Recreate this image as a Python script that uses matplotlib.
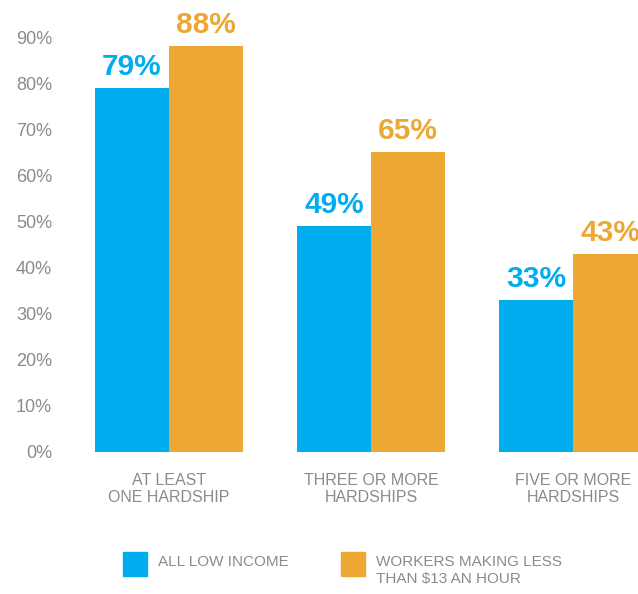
import matplotlib.pyplot as plt
from matplotlib.patches import Rectangle
import numpy as np

categories = ["AT LEAST\nONE HARDSHIP", "THREE OR MORE\nHARDSHIPS", "FIVE OR MORE\nHARDSHIPS"]
all_low_income = [79, 49, 33]
workers_under_13 = [88, 65, 43]
series_names = ["ALL LOW INCOME", "WORKERS MAKING LESS\nTHAN $13 AN HOUR"]
yticks = [0, 10, 20, 30, 40, 50, 60, 70, 80, 90]

blue = "#00AEEF"
orange = "#EDA733"
gray = "#8A8B8D"
font = ["Liberation Sans", "DejaVu Sans"]

W, H = 638, 594
fig = plt.figure(figsize=(W / 100, H / 100), dpi=100)
ax = fig.add_axes([80 / W, (H - 452) / H, 1 - 80 / W, 452 / H])

x = np.arange(len(categories))
w = 0.367
bars1 = ax.bar(x - w / 2, all_low_income, w, color=blue)
bars2 = ax.bar(x + w / 2, workers_under_13, w, color=orange)

# value labels above each bar
for bars, vals, c in [(bars1, all_low_income, blue), (bars2, workers_under_13, orange)]:
    for b, v in zip(bars, vals):
        ax.annotate(f"{v}%", (b.get_x() + b.get_width() / 2, v),
                    xytext=(0, 9.5), textcoords="offset points",
                    ha="center", va="baseline", color=c, fontsize=21.5,
                    fontweight="bold", family=font, annotation_clip=False)

ax.set_xlim(-0.4406, 2.322)
ax.set_ylim(0, 452 / 4.61)
for s in ax.spines.values():
    s.set_visible(False)

ax.set_yticks(yticks)
ax.set_yticklabels([f"{t}%" for t in yticks], family=font, fontsize=13, color=gray)
ax.set_xticks(x)
ax.set_xticklabels(categories, family=font, fontsize=11.5, color=gray, linespacing=1.2)
ax.tick_params(axis="y", length=0, pad=20)
ax.tick_params(axis="x", length=0, pad=15)

# legend drawn in figure pixels
legend_items = [(123, blue, series_names[0]), (341, orange, series_names[1])]
for px, c, name in legend_items:
    fig.add_artist(Rectangle((px / W, (H - 576) / H), 24 / W, 24 / H,
                             transform=fig.transFigure, color=c))
    fig.text((px + 35) / W, (H - 555) / H, name, ha="left", va="top",
             family=font, fontsize=11, color=gray, linespacing=1.25)

fig.savefig("out.png", dpi=100)
